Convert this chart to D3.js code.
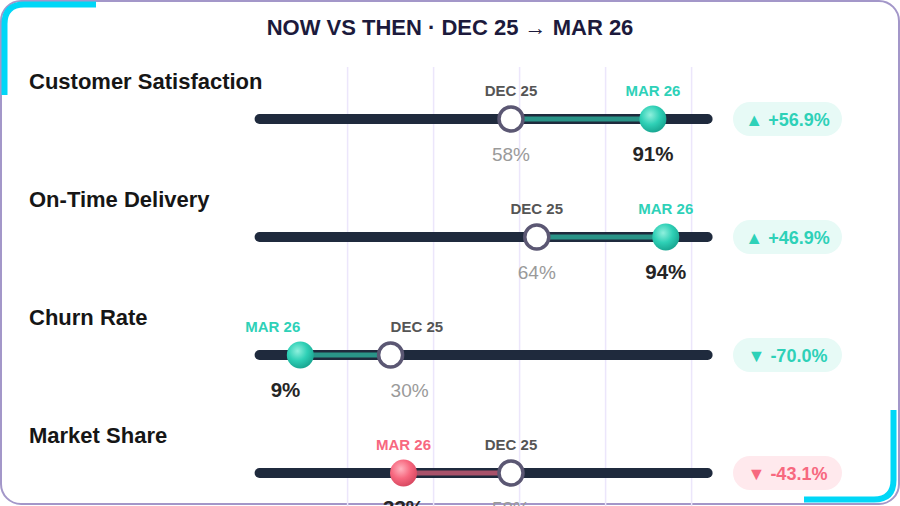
<!DOCTYPE html>
<html>
<head>
<meta charset="utf-8">
<script src="https://cdn.jsdelivr.net/npm/d3@7"></script>
<style>
  html, body { margin: 0; padding: 0; background: #ffffff; }
  svg { display: block; font-family: "Liberation Sans", Arial, sans-serif; }
</style>
</head>
<body>
<div id="chart"></div>
<script>
// Chart data
var metrics = ["Customer Satisfaction", "On-Time Delivery", "Churn Rate", "Market Share"];
var thenValues = [58, 64, 30, 58];   // DEC 25
var nowValues = [91, 94, 9, 33];     // MAR 26
var lowerIsBetter = [false, false, true, false];
var gridTicks = [20, 40, 60, 80, 100];
var thenLabel = "DEC 25";
var nowLabel = "MAR 26";

var svgWidth = 900;
var svgHeight = 506;

var svg = d3.select("#chart")
  .append("svg")
  .attr("width", svgWidth)
  .attr("height", svgHeight);

var defs = svg.append("defs");

function ballGradient(id, light, mid, dark) {
  var g = defs.append("radialGradient")
    .attr("id", id)
    .attr("cx", "40%").attr("cy", "35%").attr("r", "65%");
  g.append("stop").attr("offset", "0%").attr("stop-color", light);
  g.append("stop").attr("offset", "55%").attr("stop-color", mid);
  g.append("stop").attr("offset", "100%").attr("stop-color", dark);
}
ballGradient("ballGood", "#8ff0dd", "#2fd0b6", "#1aa893");
ballGradient("ballBad", "#ffb3bf", "#f7687f", "#d94a62");

// Card frame
svg.append("rect")
  .attr("x", 1).attr("y", 1)
  .attr("width", svgWidth - 2).attr("height", svgHeight - 3)
  .attr("rx", 20)
  .attr("fill", "#ffffff")
  .attr("stroke", "#a397c9")
  .attr("stroke-width", 2);

// Corner accents
svg.append("path")
  .attr("d", "M4.5,95 L4.5,24 Q4.5,4.5 24,4.5 L96,4.5")
  .attr("fill", "none").attr("stroke", "#00d7f7").attr("stroke-width", 6);
svg.append("path")
  .attr("d", "M804,499.5 L874,499.5 Q893.5,499.5 893.5,480 L893.5,410")
  .attr("fill", "none").attr("stroke", "#00d7f7").attr("stroke-width", 6);

// Title
svg.append("text")
  .attr("x", svgWidth / 2)
  .attr("y", 35)
  .attr("text-anchor", "middle")
  .attr("font-size", "22px")
  .attr("font-weight", "bold")
  .attr("fill", "#1c1a3c")
  .text("NOW VS THEN · " + thenLabel + " → " + nowLabel);

// Scales
var xScale = d3.scaleLinear()
  .domain([0, 100])
  .range([261.6, 691.6]);

var yScale = d3.scaleBand()
  .domain(metrics)
  .range([60, 532])
  .paddingInner(0);

function rowY(name) { return yScale(name) + 59; }

// Gridlines
svg.append("g")
  .selectAll("line")
  .data(gridTicks)
  .enter()
  .append("line")
  .attr("x1", d => xScale(d)).attr("x2", d => xScale(d))
  .attr("y1", 67).attr("y2", svgHeight)
  .attr("stroke", "#ece6fb")
  .attr("stroke-width", 1.5);

var rows = svg.append("g")
  .selectAll("g")
  .data(metrics.map((m, i) => ({
    name: m,
    then: thenValues[i],
    now: nowValues[i],
    lowerBetter: lowerIsBetter[i]
  })))
  .enter()
  .append("g")
  .attr("transform", d => `translate(0, ${rowY(d.name)})`);

rows.each(function(d) {
  var g = d3.select(this);
  var change = (d.now - d.then) / d.then * 100;
  var good = d.lowerBetter ? change < 0 : change > 0;
  var accent = good ? "#2ed1b8" : "#f7687f";
  var segColor = good ? "#2a9488" : "#a8526a";
  var xThen = xScale(d.then);
  var xNow = xScale(d.now);

  // when the markers are close, push labels outward
  var close = Math.abs(xNow - xThen) < 100;
  function anchorFor(x, other) {
    if (!close) return "middle";
    return x < other ? "end" : "start";
  }
  var thenAnchor = anchorFor(xThen, xNow);
  var nowAnchor = anchorFor(xNow, xThen);

  // Metric label
  g.append("text")
    .attr("x", 29).attr("y", -30)
    .attr("font-size", "22px")
    .attr("font-weight", "bold")
    .attr("fill", "#161616")
    .text(d.name);

  // Track
  g.append("line")
    .attr("x1", xScale(0) - 2).attr("x2", xScale(100) + 16)
    .attr("y1", 0).attr("y2", 0)
    .attr("stroke", "#1f2a3d")
    .attr("stroke-width", 10)
    .attr("stroke-linecap", "round");

  // Change segment
  g.append("line")
    .attr("x1", xThen).attr("x2", xNow)
    .attr("y1", 0).attr("y2", 0)
    .attr("stroke", segColor)
    .attr("stroke-width", 5);

  // Then marker
  g.append("circle")
    .attr("cx", xThen).attr("cy", 0).attr("r", 12)
    .attr("fill", "#ffffff")
    .attr("stroke", "#5b5773")
    .attr("stroke-width", 3.5);

  // Now marker
  g.append("circle")
    .attr("cx", xNow).attr("cy", 0).attr("r", 13.5)
    .attr("fill", good ? "url(#ballGood)" : "url(#ballBad)");

  // Date labels
  g.append("text")
    .attr("x", xThen).attr("y", -23)
    .attr("text-anchor", thenAnchor)
    .attr("font-size", "15px").attr("font-weight", "bold")
    .attr("fill", "#555555")
    .text(thenLabel);
  g.append("text")
    .attr("x", xNow).attr("y", -23)
    .attr("text-anchor", nowAnchor)
    .attr("font-size", "15px").attr("font-weight", "bold")
    .attr("fill", accent)
    .text(nowLabel);

  // Value labels
  g.append("text")
    .attr("x", xThen).attr("y", 42)
    .attr("text-anchor", thenAnchor)
    .attr("font-size", "19px")
    .attr("fill", "#9a9a9a")
    .text(d.then + "%");
  g.append("text")
    .attr("x", xNow).attr("y", 42)
    .attr("text-anchor", nowAnchor)
    .attr("font-size", "20.5px").attr("font-weight", "bold")
    .attr("fill", "#252525")
    .text(d.now + "%");

  // Change badge
  g.append("rect")
    .attr("x", 733).attr("y", -17)
    .attr("width", 109).attr("height", 34)
    .attr("rx", 17)
    .attr("fill", good ? "#e7faf6" : "#ffe9ed");
  g.append("text")
    .attr("x", 787.5).attr("y", 6.5)
    .attr("text-anchor", "middle")
    .attr("font-size", "18px").attr("font-weight", "bold")
    .attr("fill", accent)
    .text((change > 0 ? "▲ +" : "▼ ") + change.toFixed(1) + "%");
});
</script>
</body>
</html>
